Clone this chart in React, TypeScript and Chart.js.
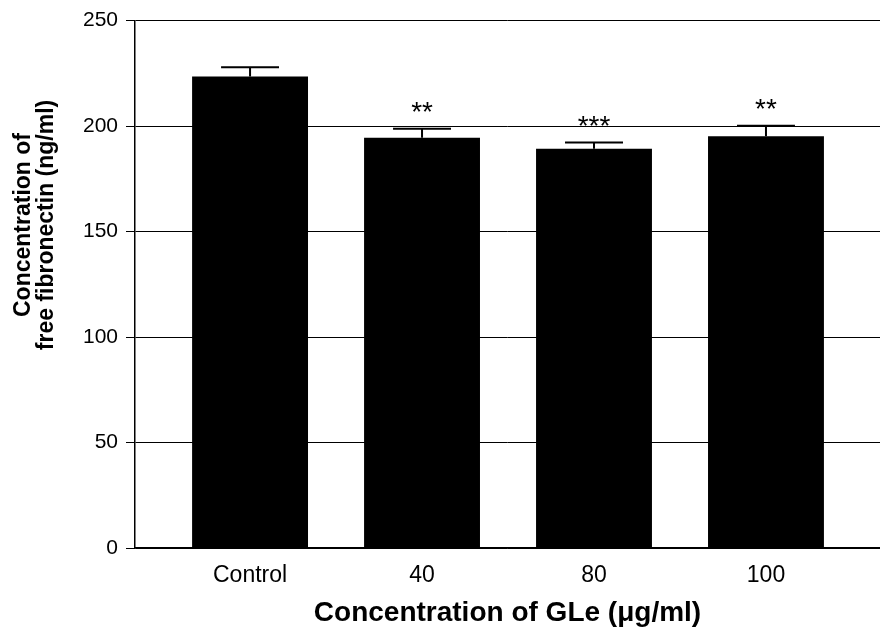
import { useEffect, useRef } from "react";
import { Chart, registerables } from "chart.js";

Chart.register(...registerables);

// Free fibronectin concentration (ng/ml) per GLe treatment group, mean ± SEM
const categories = ["Control", "40", "80", "100"];
const meanValues = [223.5, 194.5, 189.3, 195.2];
const semValues = [4.4, 4.2, 2.9, 4.9];
const significance = ["", "**", "***", "**"];
const yTickValues = [0, 50, 100, 150, 200, 250];

const FONT = "'Liberation Sans', Arial, Helvetica, sans-serif";
const yTitleLines = ["Concentration of", "free fibronectin (ng/ml)"];
const xTitle = "Concentration of GLe (\u03bcg/ml)";

// Upper error whiskers with caps plus significance stars above them
const errorBarPlugin = {
  id: "errorBars",
  afterDatasetsDraw(chart: any) {
    const { ctx } = chart;
    const yScale = chart.scales.y;
    const meta = chart.getDatasetMeta(0);
    ctx.save();
    ctx.strokeStyle = "#000";
    ctx.lineWidth = 2;
    meta.data.forEach((bar: any, i: number) => {
      const top = yScale.getPixelForValue(meanValues[i] + semValues[i]);
      const half = bar.width / 4;
      ctx.beginPath();
      ctx.moveTo(bar.x, bar.y);
      ctx.lineTo(bar.x, top);
      ctx.moveTo(bar.x - half, top);
      ctx.lineTo(bar.x + half, top);
      ctx.stroke();
      if (significance[i]) {
        ctx.fillStyle = "#000";
        ctx.font = `28px ${FONT}`;
        ctx.textAlign = "center";
        ctx.textBaseline = "alphabetic";
        ctx.fillText(significance[i], bar.x, top - 8);
      }
    });
    ctx.restore();
  },
};

// Axis titles
const titlePlugin = {
  id: "axisTitles",
  afterDraw(chart: any) {
    const { ctx, chartArea } = chart;
    ctx.save();
    ctx.fillStyle = "#000";
    ctx.textAlign = "center";
    ctx.textBaseline = "middle";
    ctx.font = `bold 23px ${FONT}`;
    ctx.translate(35, 225);
    ctx.rotate(-Math.PI / 2);
    ctx.fillText(yTitleLines[0], 0, -11.5);
    ctx.fillText(yTitleLines[1], 0, 11.5);
    ctx.restore();

    ctx.save();
    ctx.fillStyle = "#000";
    ctx.textAlign = "center";
    ctx.textBaseline = "alphabetic";
    ctx.font = `bold 28px ${FONT}`;
    ctx.fillText(xTitle, (chartArea.left + chartArea.right) / 2, 621);
    ctx.restore();
  },
};

export default function App() {
  const canvasRef = useRef<HTMLCanvasElement | null>(null);

  useEffect(() => {
    if (!canvasRef.current) return;
    const chart = new Chart(canvasRef.current, {
      type: "bar",
      data: {
        datasets: [
          {
            data: meanValues.map((v, i) => ({ x: i, y: v })),
            backgroundColor: "#000",
            borderWidth: 0,
            barPercentage: 0.674,
            categoryPercentage: 1,
          } as any,
        ],
      },
      options: {
        animation: false,
        responsive: false,
        devicePixelRatio: 1,
        layout: { padding: { top: 20, right: 0, left: 0, bottom: 0 } },
        plugins: {
          legend: { display: false },
          tooltip: { enabled: false },
        },
        scales: {
          x: {
            type: "linear",
            offset: false,
            min: -0.669,
            max: 3.663,
            grid: { display: false, drawTicks: false, offset: false },
            border: { display: true, color: "#000", width: 1.5 },
            afterBuildTicks: (axis: any) => {
              axis.ticks = categories.map((_, i) => ({ value: i }));
            },
            afterFit: (scale: any) => {
              scale.height = 83;
            },
            ticks: {
              autoSkip: false,
              maxRotation: 0,
              padding: 14,
              color: "#000",
              font: { family: FONT, size: 23 },
              callback: (v: any) => categories[Math.round(Number(v))] ?? "",
            },
          },
          y: {
            type: "linear",
            min: 0,
            max: 250,
            afterBuildTicks: (axis: any) => {
              axis.ticks = yTickValues.map((value) => ({ value }));
            },
            afterFit: (scale: any) => {
              scale.width = 135;
            },
            grid: { color: "#000", lineWidth: 1, tickLength: 9, drawTicks: true },
            border: { display: true, color: "#000", width: 1.5 },
            ticks: {
              padding: 8,
              color: "#000",
              font: { family: FONT, size: 21 },
            },
          },
        },
      } as any,
      plugins: [errorBarPlugin, titlePlugin],
    });
    return () => chart.destroy();
  }, []);

  return (
    <div style={{ position: "fixed", left: 0, top: 0, width: 880, height: 631, background: "#fff" }}>
      <canvas ref={canvasRef} width={880} height={631} style={{ display: "block", width: 880, height: 631 }} />
    </div>
  );
}
